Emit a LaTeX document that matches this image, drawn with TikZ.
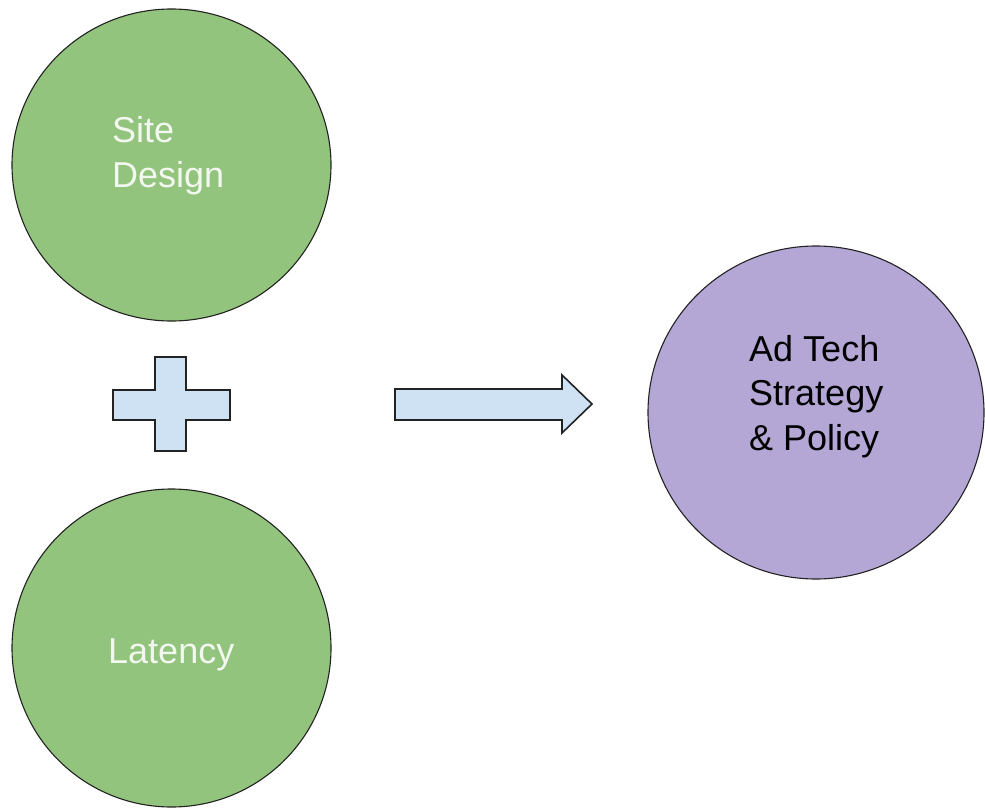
\documentclass[tikz,border=0pt]{standalone}
\usepackage{fontspec}
\setmainfont{Liberation Sans}
\usetikzlibrary{shapes.geometric}
\definecolor{gfill}{HTML}{93C47D}
\definecolor{pfill}{HTML}{B4A7D6}
\definecolor{bfill}{HTML}{CFE2F3}
\definecolor{gtext}{HTML}{F2F8EF}
\definecolor{edge}{HTML}{222222}
\tikzset{
  blob/.style={ellipse, draw=edge, line width=1.1pt, inner sep=0pt},
  glyph/.style={draw=edge, fill=bfill, line width=1.6pt, line join=miter},
  lbl/.style={font=\fontsize{36}{44.5}\selectfont, inner sep=0pt, align=left, anchor=base west},
}
\begin{document}
\begin{tikzpicture}[x=1pt,y=-1pt]
\useasboundingbox (0,0) rectangle (985,808);
\node[blob, fill=gfill, minimum width=319pt, minimum height=312pt] (site) at (171.5,165) {};
\node[blob, fill=gfill, minimum width=319pt, minimum height=318pt] (lat) at (171.5,648) {};
\node[blob, fill=pfill, minimum width=336pt, minimum height=333pt] (ad) at (816,412.5) {};
\node[lbl, text=gtext] (sitetext) at (112,187) {Site\\Design};
\node[lbl, text=gtext] (lattext) at (108,663) {Latency};
\node[lbl, text=black] (adtext) at (749,450) {Ad Tech\\Strategy\\\& Policy};
% plus sign
\draw[glyph] (155,357) -- (186,357) -- (186,390) -- (230,390) -- (230,420) -- (186,420)
  -- (186,451) -- (155,451) -- (155,420) -- (113,420) -- (113,390) -- (155,390) -- cycle;
% block arrow
\draw[glyph] (395,389) -- (562,389) -- (562,375) -- (592,404) -- (562,433) -- (562,420)
  -- (395,420) -- cycle;
\end{tikzpicture}
\end{document}
